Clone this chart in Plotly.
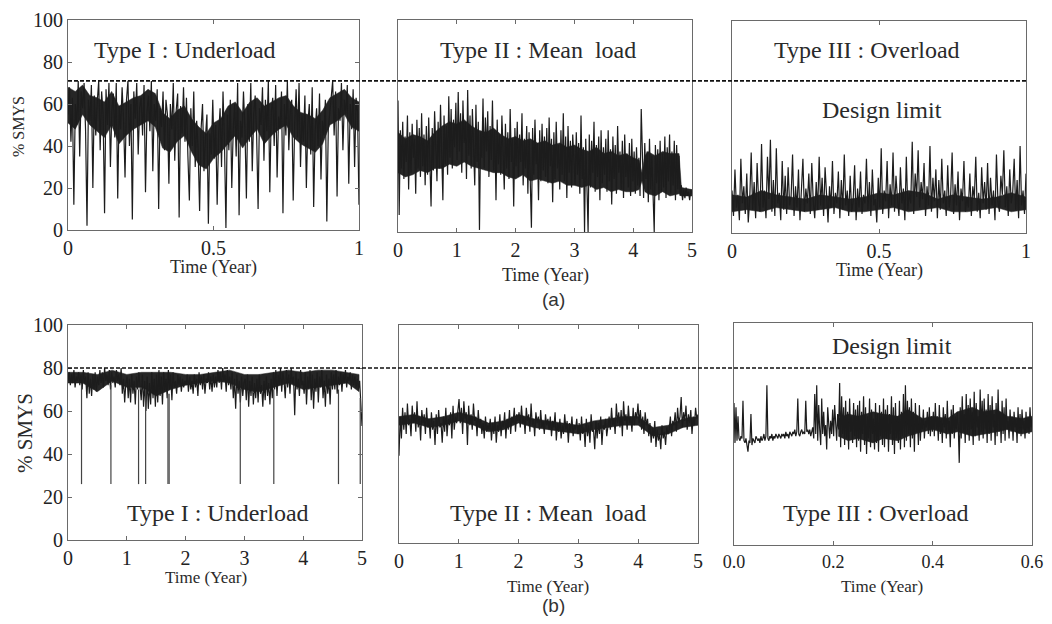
import numpy as np
import plotly.graph_objects as go

# page window 1052x624; the page body adds an 8px margin around the figure,
# so the figure is sized to fit inside the window without overflow
PAGE_W, PAGE_H, OFF = 1052, 624, 8
FW, FH = PAGE_W - 2 * OFF, PAGE_H - 2 * OFF

# ---------------- data ----------------
TOP_LIMIT = 71      # design limit, row (a), % SMYS
BOTTOM_LIMIT = 80   # design limit, row (b), % SMYS

# (a) Type I : Underload, 0-1 year
A1 = [55,68,42,63,12,60,50,71,35,66,58,70,48,2,62,52,69,20,64,45,
      61,71,38,66,55,8,67,50,70,30,57,65,44,70,15,59,48,68,52,25,
      62,71,40,60,5,66,53,70,36,58,63,45,69,18,56,64,47,71,28,60,
      52,67,10,58,49,66,38,62,55,22,60,48,70,33,57,65,6,59,46,68,
      42,63,35,14,58,40,66,30,52,38,9,48,60,28,44,55,3,46,36,62,
      34,50,12,45,58,30,66,42,1,55,38,62,20,48,60,35,70,7,52,44,
      66,48,15,60,42,70,28,55,64,45,10,58,50,68,33,62,47,71,18,56,
      63,40,69,25,54,48,66,8,60,45,71,38,57,62,14,50,67,44,70,30,
      55,42,64,20,50,60,36,68,11,47,58,40,65,24,52,45,62,4,48,56,
      60,71,45,66,16,58,52,70,38,62,55,69,22,60,48,67,30,63,56,12]
A1_CORE_T = [0, .025, .05, .075, .1, .125, .15, .175, .2, .225, .25, .275, .3, .325, .35, .375,
             .4, .425, .45, .475, .5, .525, .55, .575, .6, .625, .65, .675, .7, .725, .75,
             .775, .8, .825, .85, .875, .9, .925, .95, .975, 1]
A1_CORE_LO = [51, 48, 55, 50, 47, 44, 50, 41, 45, 48, 50, 52, 49, 39, 37, 42, 45, 37, 31, 29,
              34, 37, 41, 45, 39, 44, 48, 41, 45, 48, 50, 44, 41, 39, 37, 41, 50, 52, 55, 49, 47]
A1_CORE_HI = [68, 66, 69, 64, 63, 61, 66, 59, 61, 63, 64, 67, 65, 56, 53, 57, 59, 53, 49, 46,
              51, 53, 59, 61, 56, 61, 63, 59, 61, 63, 64, 59, 56, 55, 53, 57, 63, 65, 67, 63, 61]

# (a) Type II : Mean load, 0-5 years
A2 = [62,8,48,30,52,25,45,33,55,20,47,28,51,35,44,18,53,30,49,26,56,31,46,22,50,
      27,54,33,12,49,29,57,36,24,52,30,60,38,15,55,32,50,27,64,35,58,30,53,40,61,
      34,66,38,56,28,62,42,52,25,67,36,55,30,58,44,22,60,33,52,1,47,35,63,30,54,
      38,57,26,50,34,62,29,48,15,53,32,46,27,55,36,20,51,30,47,25,58,33,44,12,49,
      31,52,26,46,33,56,22,44,30,50,18,47,28,2,49,27,53,32,42,15,48,24,51,29,45,
      26,49,23,54,31,44,14,47,25,52,30,41,20,48,27,56,24,45,16,50,28,43,21,46,30,
      22,47,27,42,18,55,25,40,0,44,24,0,46,21,43,28,52,19,41,26,45,15,48,23,40,
      27,44,19,48,24,39,13,45,25,41,18,50,28,38,20,43,16,46,26,37,21,42,17,44,24,
      38,18,40,22,35,17,58,30,16,42,25,38,14,44,20,36,18,0,41,23,39,15,43,19,37,
      21,45,16,40,24,46,18,38,22,43,15,41,20,36,17,22,15,20,16,21,17,19,15,20,18]
A2_CORE_T = [0, .125, .25, .375, .5, .625, .75, .875, 1, 1.125, 1.25, 1.375, 1.5, 1.625, 1.75,
             1.875, 2, 2.125, 2.25, 2.375, 2.5, 2.625, 2.75, 2.875, 3, 3.125, 3.25, 3.375, 3.5,
             3.625, 3.75, 3.875, 4, 4.1, 4.15, 4.2, 4.25, 4.375, 4.5, 4.625, 4.78, 4.82, 5]
A2_CORE_LO = [28, 26, 27, 29, 28, 30, 30, 32, 31, 33, 31, 30, 29, 28, 28, 26, 25, 27, 24, 25, 24,
              23, 24, 22, 22, 21, 22, 20, 21, 19, 20, 19, 19, 20, 24, 19, 18, 17, 19, 17, 18, 17, 17]
A2_CORE_HI = [47, 44, 46, 45, 43, 47, 50, 52, 51, 53, 50, 48, 47, 49, 46, 44, 45, 43, 44, 42, 43,
              41, 42, 40, 41, 39, 38, 40, 37, 38, 36, 37, 35, 34, 28, 36, 38, 36, 38, 37, 37, 21, 20]

# (a) Type III : Overload, 0-1 year
A3 = [20,8,30,12,18,6,35,14,22,9,28,5,16,38,11,24,7,33,15,10,
      42,12,20,7,36,16,44,10,25,8,40,14,19,6,34,11,27,9,31,13,
      17,37,8,22,12,30,6,18,35,10,21,14,28,9,33,15,7,24,11,36,
      13,26,8,31,16,5,22,12,34,9,19,14,29,7,25,11,37,13,20,8,
      27,10,15,32,6,21,12,29,9,18,14,35,11,24,8,30,13,16,5,26,
      12,40,9,20,15,34,7,23,13,38,10,27,16,8,31,14,21,6,36,11,
      19,14,43,9,28,17,39,12,24,16,33,8,22,13,41,10,26,15,30,7,
      25,11,35,14,20,8,32,12,18,38,9,23,13,29,6,21,15,34,10,17,
      12,28,8,22,16,36,10,19,7,31,14,24,11,33,9,26,13,20,6,37,
      15,10,27,18,39,12,22,8,30,14,19,35,11,25,7,41,13,20,9,28]
A3_CORE_T = [0, .05, .1, .15, .2, .25, .3, .35, .4, .45, .5, .55, .6, .65, .7, .75, .8, .85, .9, .95, 1]
A3_CORE_LO = [10, 11, 10, 12, 11, 10, 11, 12, 10, 10, 11, 12, 10, 11, 12, 10, 10, 11, 12, 10, 11]
A3_CORE_HI = [18, 17, 20, 18, 17, 16, 18, 17, 16, 17, 19, 18, 20, 19, 16, 18, 17, 16, 17, 19, 17]

# (b) Type I : Underload, 0-5 years
B1 = [74,78,72,77,73,79,71,76,74,78,72,77,70,79,73,76,66,78,68,75,67,77,70,78,69,
      76,72,79,73,78,71,80,74,77,72,79,70,78,73,76,71,79,74,77,72,80,68,75,64,73,
      76,66,75,64,77,68,74,63,76,70,78,72,65,77,62,74,60,76,61,73,63,78,66,75,62,
      77,64,79,67,76,63,78,69,75,66,79,70,77,65,78,71,74,68,77,72,76,69,75,71,74,
      72,77,69,76,70,74,68,77,71,75,67,78,72,76,70,77,68,75,73,78,70,76,69,77,71,
      76,71,79,73,78,70,80,74,77,69,79,72,76,70,78,66,75,61,77,68,74,64,76,67,73,
      75,65,77,62,74,67,76,63,73,66,75,64,77,68,72,62,74,65,76,67,73,63,75,66,78,
      70,79,67,77,72,80,69,78,74,66,79,71,77,68,80,73,76,58,78,70,75,67,79,72,74,
      68,78,63,76,70,79,65,77,61,75,69,78,64,76,71,79,66,74,62,77,68,75,63,78,70,
      77,70,79,68,76,72,78,69,77,73,79,71,76,74,78,70,77,72,76,71,75,70,74,62,53]
B1_CORE_T = [0, .25, .5, .75, 1, 1.25, 1.5, 1.75, 2, 2.25, 2.5, 2.75, 3, 3.25, 3.5, 3.75, 4, 4.25, 4.5, 4.75, 4.95]
B1_CORE_LO = [73, 73, 69, 74, 71, 71, 67, 70, 72, 73, 74, 73, 70, 69, 71, 73, 70, 71, 72, 73, 69]
B1_CORE_HI = [78, 78, 77, 79, 77, 78, 78, 78, 77, 77, 78, 79, 77, 77, 78, 79, 78, 79, 79, 78, 77]
B1_SPIKE_TIMES = [0.23, 0.73, 1.20, 1.32, 1.70, 1.72, 2.93, 3.50, 4.60, 4.97]
B1_SPIKE_TOPS = [72, 72, 70, 70, 68, 68, 70, 70, 70, 66]
B1_SPIKE_FLOOR = 26

# (b) Type II : Mean load, 0-5 years
B2 = [40,58,48,62,52,60,50,64,54,57,49,63,55,60,51,65,53,58,47,61,55,59,50,62,53,
      57,48,60,52,56,45,59,50,61,53,55,46,58,51,62,49,57,54,60,48,63,52,58,55,61,
      66,55,62,50,65,57,60,45,63,54,59,52,64,56,58,49,61,53,57,50,55,48,58,51,54,
      52,57,47,55,50,58,46,54,51,59,49,56,53,60,48,57,52,61,50,58,55,62,51,59,56,
      60,53,63,55,58,50,62,56,59,51,64,54,57,49,60,55,58,52,61,53,56,50,59,54,57,
      52,58,49,56,53,60,47,55,51,57,48,54,50,59,52,56,46,55,51,58,49,54,52,57,50,
      55,47,58,50,53,44,57,49,54,46,59,51,52,43,56,48,55,50,58,45,54,52,57,49,53,
      58,52,62,54,57,50,64,55,60,53,61,49,65,56,59,52,63,55,58,51,62,54,60,57,64,
      55,61,52,58,50,60,54,57,49,55,46,53,48,56,44,52,47,50,43,54,48,51,45,53,50,
      52,58,49,56,54,60,51,62,55,58,67,53,60,56,63,52,59,55,61,50,58,54,62,57,59]
B2_CORE_T = [0, .25, .5, .75, 1, 1.25, 1.5, 1.75, 2, 2.25, 2.5, 2.75, 3, 3.25, 3.5, 3.75, 4, 4.25, 4.5, 4.75, 5]
B2_CORE_LO = [54, 55, 53, 54, 56, 54, 51, 52, 55, 53, 52, 51, 50, 52, 53, 54, 54, 49, 50, 53, 54]
B2_CORE_HI = [58, 59, 57, 58, 60, 58, 55, 56, 59, 57, 56, 55, 54, 56, 57, 58, 58, 53, 54, 57, 58]

# (b) Type III : Overload, 0-0.6 year
B3 = [64,46,62,47,58,48,47,49,48,65,47,46,48,44,42,47,46,59,45,48,47,46,49,48,47,
      48,46,49,47,48,50,47,49,72,48,47,49,48,50,47,49,48,50,49,48,50,49,48,50,49,
      50,48,51,49,50,48,51,50,49,51,50,52,49,51,66,50,49,51,52,50,51,50,65,51,52,
      50,52,49,51,53,48,68,50,72,47,63,52,45,66,50,60,49,54,43,62,51,48,56,50,61,
      49,63,51,47,59,52,73,44,67,50,62,45,65,48,60,43,66,51,58,46,64,49,61,44,63,
      47,65,42,60,50,67,45,62,41,58,48,66,44,61,50,57,43,64,46,59,42,63,49,60,45,
      66,44,61,48,63,42,59,50,67,45,62,41,64,48,58,46,65,43,60,49,68,44,72,47,65,
      50,62,44,66,48,60,42,64,51,58,45,63,47,57,52,61,48,56,53,60,50,62,49,58,51,
      60,49,64,52,58,47,63,50,57,46,62,53,59,48,65,51,56,44,61,50,63,48,58,52,60,
      53,37,62,48,67,51,59,46,68,50,63,47,66,52,60,45,69,49,64,53,58,47,70,51,65,
      48,66,52,61,46,68,50,63,47,67,53,59,45,64,49,70,51,60,46,65,50,62,47,66,52,
      56,48,61,51,58,47,60,53,57,46,62,50,59,49,61,52,56,48,60,51,58,50,62,53,57]
B3_CORE_T = [0.21, 0.23, 0.25, 0.28, 0.3, 0.33, 0.35, 0.38, 0.4, 0.43, 0.45, 0.48, 0.5, 0.53, 0.55, 0.58, 0.6]
B3_CORE_LO = [49, 47, 48, 46, 48, 47, 49, 51, 52, 50, 51, 49, 50, 51, 52, 50, 51]
B3_CORE_HI = [57, 59, 58, 60, 59, 58, 61, 57, 58, 57, 60, 62, 60, 61, 58, 57, 58]

TITLES = ["Type I : Underload", "Type II : Mean  load", "Type III : Overload",
          "Type I : Underload", "Type II : Mean  load", "Type III : Overload"]
X_MAX = [1, 5, 1, 5, 5, 0.6]
X_TICKS = [[0, 0.5, 1], [0, 1, 2, 3, 4, 5], [0, 0.5, 1],
           [0, 1, 2, 3, 4, 5], [0, 1, 2, 3, 4, 5], [0, 0.2, 0.4, 0.6]]
X_TICKTEXT = [["0", "0.5", "1"], ["0", "1", "2", "3", "4", "5"], ["0", "0.5", "1"],
              ["0", "1", "2", "3", "4", "5"], ["0", "1", "2", "3", "4", "5"],
              ["0.0", "0.2", "0.4", "0.6"]]
Y_TICKS = [0, 20, 40, 60, 80, 100]
SERIES = [A1, A2, A3, B1, B2, B3]
CORES = [(A1_CORE_T, A1_CORE_LO, A1_CORE_HI), (A2_CORE_T, A2_CORE_LO, A2_CORE_HI),
         (A3_CORE_T, A3_CORE_LO, A3_CORE_HI), (B1_CORE_T, B1_CORE_LO, B1_CORE_HI),
         (B2_CORE_T, B2_CORE_LO, B2_CORE_HI), (B3_CORE_T, B3_CORE_LO, B3_CORE_HI)]

# ---------------- layout geometry (page pixels) ----------------
# (left, top, right, bottom)
BOXES = [(68, 20, 359, 230), (398, 20, 692, 232), (732, 21, 1026, 233),
         (68, 325, 362, 540), (399, 325, 698, 543), (734, 323, 1032, 545)]
TICK_SIZES = [20, 20, 20, 20, 20, 18]

SERIF = "Liberation Serif"
SANS = "Liberation Sans"
LINE = "#1c1c1c"
BAND = "#262626"
BOX = "#6a6a6a"


def px(x):
    return (x - OFF) / FW


def py(y):
    return 1 - (y - OFF) / FH


fig = go.Figure()
layout = dict(width=FW, height=FH, margin=dict(l=0, r=0, t=0, b=0, autoexpand=False),
              paper_bgcolor="white", plot_bgcolor="white", showlegend=False)

for i in range(6):
    k = i + 1
    xa = "x" if k == 1 else f"x{k}"
    ya = "y" if k == 1 else f"y{k}"
    l, t, r, b = BOXES[i]
    vals = SERIES[i]
    # dense core band of the signal
    ct, clo, chi = CORES[i]
    fig.add_trace(go.Scatter(x=list(ct) + list(ct)[::-1], y=list(chi) + list(clo)[::-1],
                             mode="lines", fill="toself", fillcolor=BAND,
                             line=dict(color=BAND, width=0.5),
                             xaxis=xa, yaxis=ya, hoverinfo="skip"))
    xs = np.linspace(0, X_MAX[i], len(vals))
    fig.add_trace(go.Scatter(x=xs, y=vals, mode="lines", xaxis=xa, yaxis=ya,
                             line=dict(color=LINE, width=1.2), hoverinfo="skip"))
    show_y = i in (0, 3)
    layout[f"xaxis{'' if k == 1 else k}"] = dict(
        domain=[px(l), px(r)], anchor=ya, range=[0, X_MAX[i]],
        tickvals=X_TICKS[i], ticktext=X_TICKTEXT[i], automargin=False,
        ticklabeloverflow="allow",
        ticks="inside", ticklen=4, tickcolor=BOX, mirror="ticks",
        showline=True, linecolor=BOX, linewidth=1, showgrid=False, zeroline=False,
        tickfont=dict(family=SERIF, size=TICK_SIZES[i], color="#222"))
    layout[f"yaxis{'' if k == 1 else k}"] = dict(
        domain=[py(b), py(t)], anchor=xa, range=[0, 100], automargin=False,
        ticklabeloverflow="allow",
        tickvals=Y_TICKS, showticklabels=show_y,
        ticks="inside" if show_y else "", ticklen=4, tickcolor=BOX,
        mirror="ticks" if show_y else True,
        showline=True, linecolor=BOX, linewidth=1, showgrid=False, zeroline=False,
        tickfont=dict(family=SERIF, size=20, color="#222"))

# isolated deep dips in (b) Type I
sx, sy = [], []
for tt, top in zip(B1_SPIKE_TIMES, B1_SPIKE_TOPS):
    sx += [tt, tt, None]
    sy += [top, B1_SPIKE_FLOOR, None]
fig.add_trace(go.Scatter(x=sx, y=sy, mode="lines", xaxis="x4", yaxis="y4",
                         line=dict(color="#444", width=1.2), hoverinfo="skip"))

# design-limit dashed lines spanning each row
shapes = [
    dict(type="line", xref="paper", yref="y", x0=px(BOXES[0][0]), x1=px(BOXES[2][2]),
         y0=TOP_LIMIT, y1=TOP_LIMIT, line=dict(color="#111", width=1.6, dash="4px,2px"),
         layer="above"),
    dict(type="line", xref="paper", yref="y4", x0=px(BOXES[3][0]), x1=px(BOXES[5][2]),
         y0=BOTTOM_LIMIT, y1=BOTTOM_LIMIT, line=dict(color="#111", width=1.6, dash="4px,2px"),
         layer="above"),
]
layout["shapes"] = shapes

ann = []


def text(x, y, s, size, family=SERIF, angle=0, color="#2a2a2a"):
    ann.append(dict(x=px(x), y=py(y), xref="paper", yref="paper", text=s,
                    showarrow=False, xanchor="center", yanchor="middle",
                    textangle=angle, font=dict(family=family, size=size, color=color)))


# panel titles
title_pos = [(185, 50), (538, 50), (867, 50), (218, 513), (548, 513), (876, 513)]
for s, (x, y) in zip(TITLES, title_pos):
    text(x, y, s, 24)
text(882, 110, "Design limit", 24)
text(892, 346, "Design limit", 24)

# axis titles
for x, y in [(213, 268), (545, 275), (879, 270)]:
    text(x, y, "Time (Year)", 18)
for x, y in [(206, 577), (548, 586), (882, 586)]:
    text(x, y, "Time (Year)", 17)
text(18, 127, "% SMYS", 16, angle=-90)
text(25, 433, "% SMYS", 21, angle=-90)

# captions
text(553, 299, "(a)", 19, family=SANS, color="#333")
text(553, 605, "(b)", 19, family=SANS, color="#333")

layout["annotations"] = ann
fig.update_layout(**layout)
fig.write_html("out.html")
